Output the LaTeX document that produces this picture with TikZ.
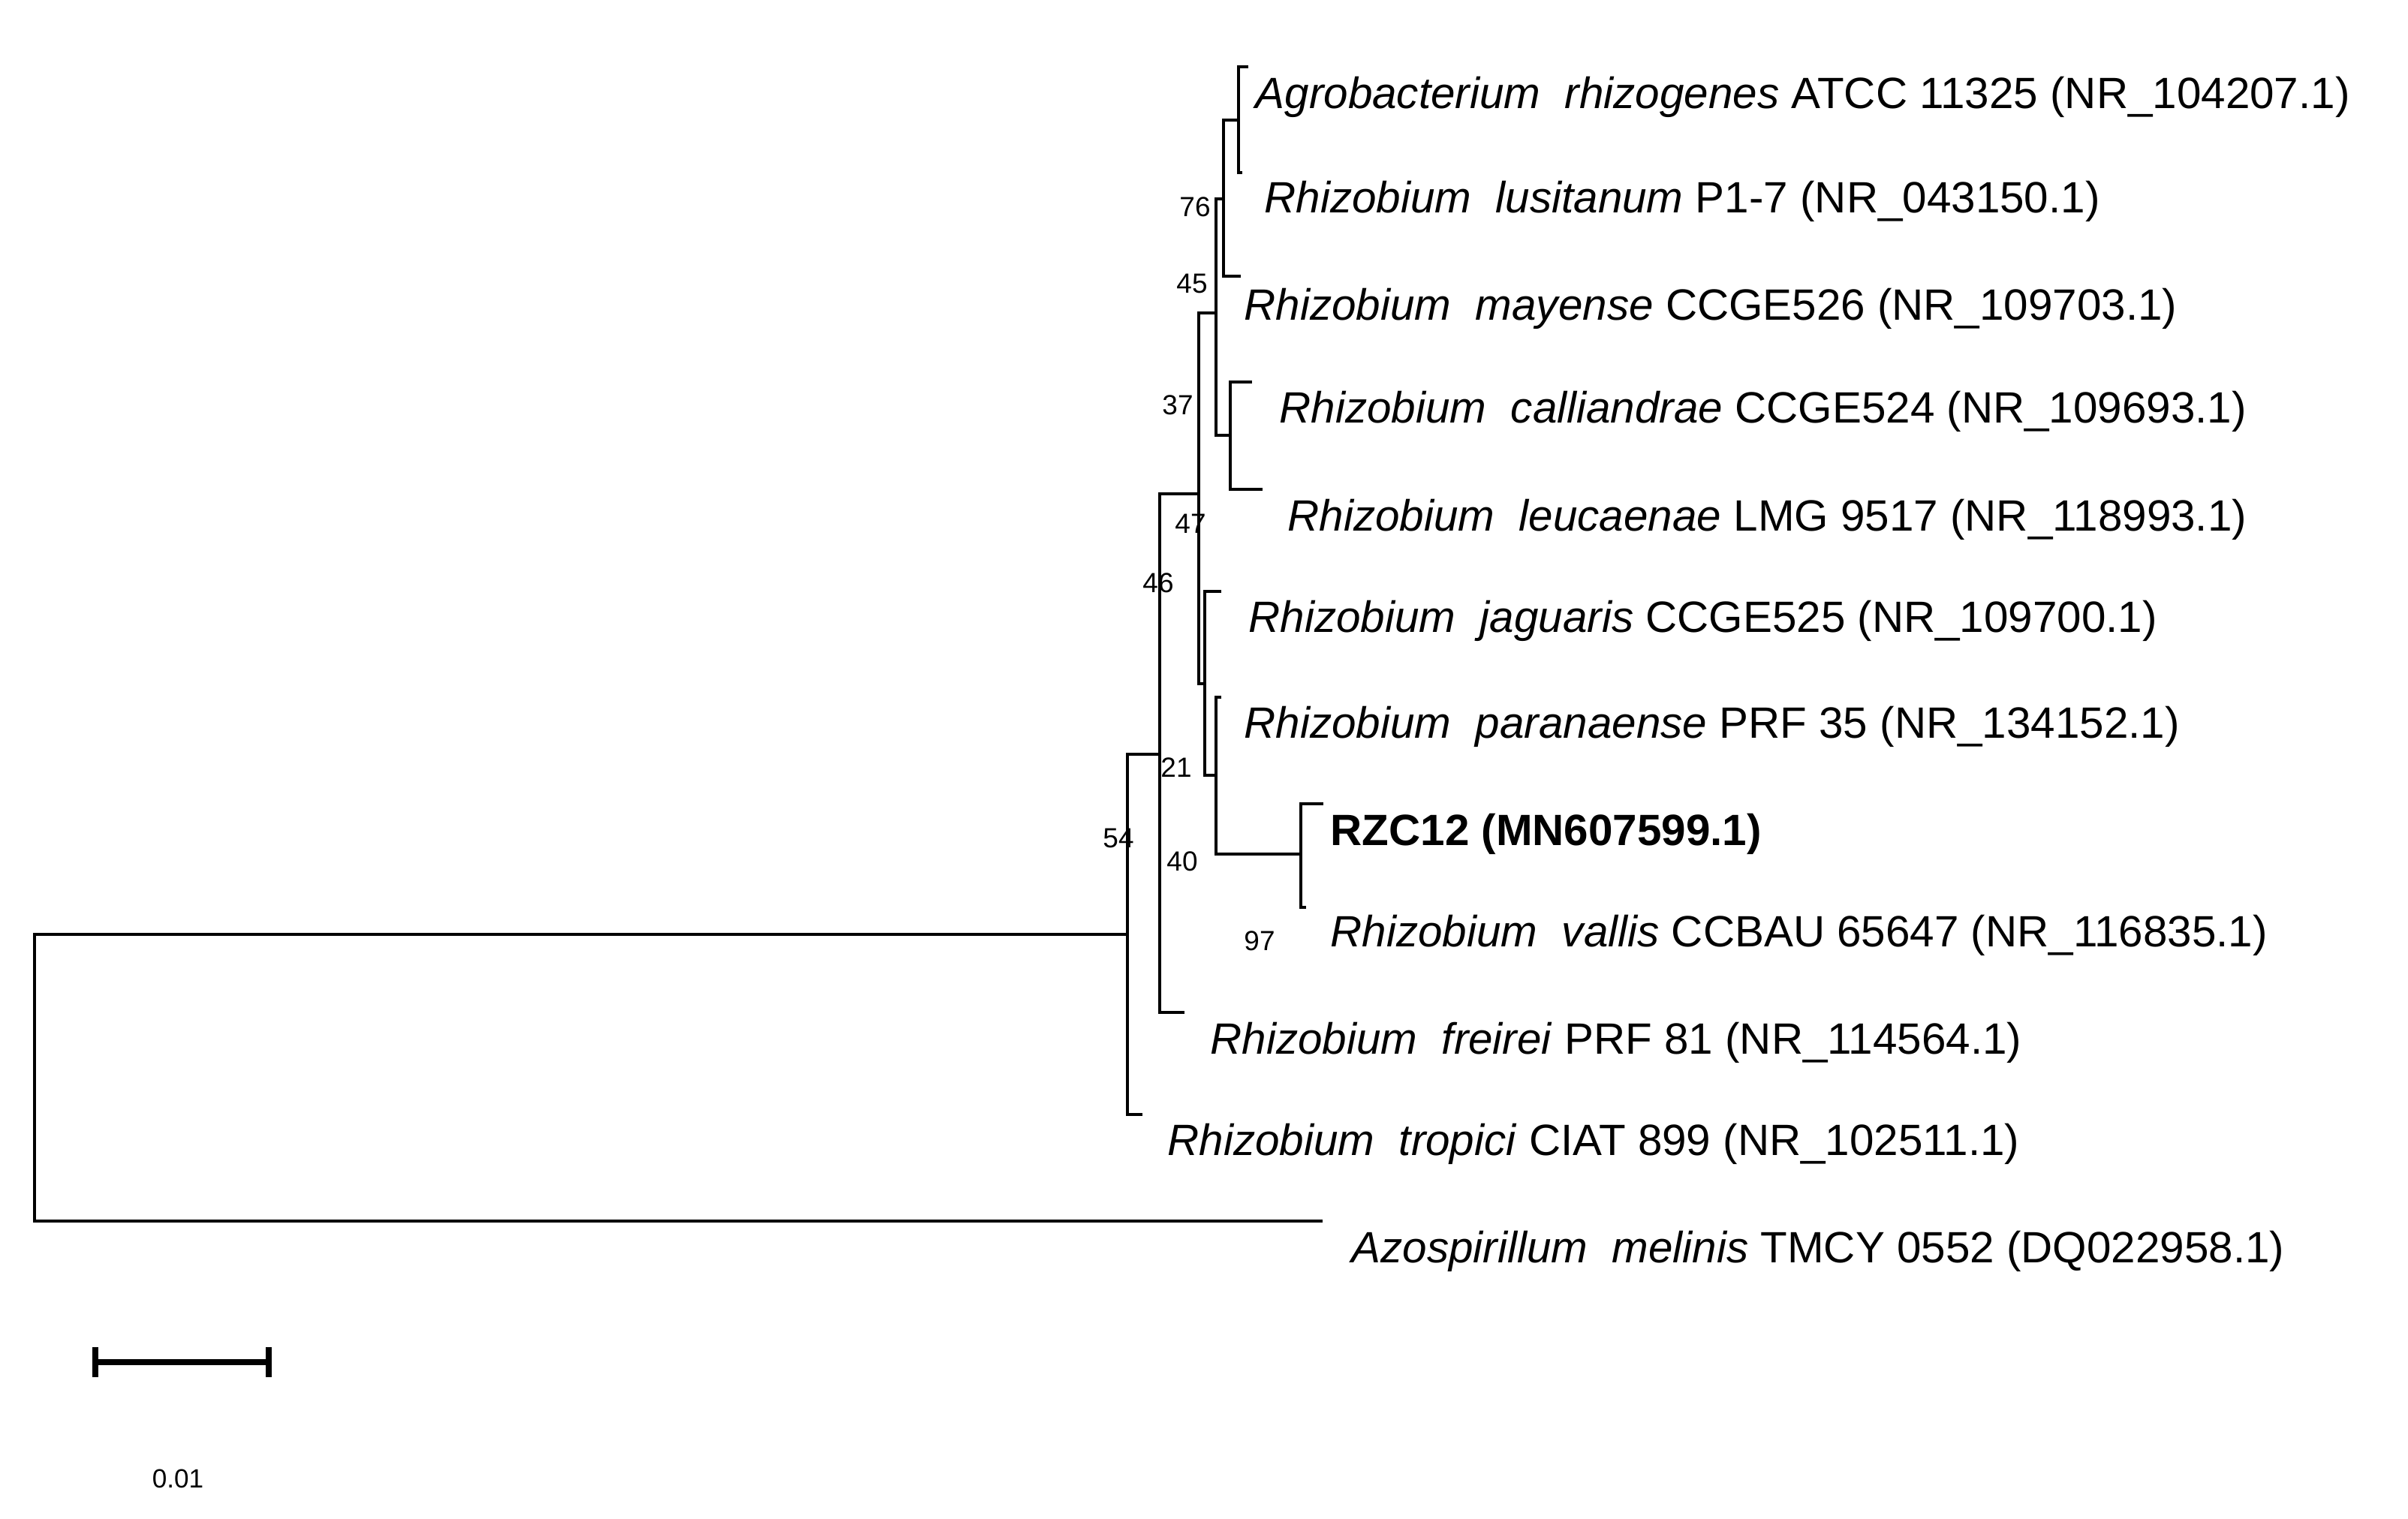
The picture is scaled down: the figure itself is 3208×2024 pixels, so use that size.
\documentclass[tikz,border=0pt]{standalone}
\usepackage{fontspec}
\setmainfont{Liberation Sans}
\begin{document}
\begin{tikzpicture}[x=0.01cm,y=-0.01cm,
  br/.style={line width=1.1pt},
  tax/.style={anchor=west,font=\fontsize{16.6}{18}\selectfont,inner sep=0pt},
  bs/.style={font=\fontsize{10.5}{12}\selectfont,inner sep=0pt}]
\useasboundingbox (0,0) rectangle (3208,2024);
% internal nodes
\coordinate (R) at (46,1245);
\coordinate (G) at (1502,1245);
\coordinate (F) at (1545,1005);
\coordinate (E) at (1597,658);
\coordinate (C) at (1620,417);
\coordinate (B) at (1630,265);
\coordinate (A) at (1650,160);
\coordinate (D) at (1639,580);
\coordinate (H) at (1605,911);
\coordinate (I) at (1620,1033);
\coordinate (J) at (1733,1138);
% tips
\coordinate (tAgro) at (1663,89);
\coordinate (tLus) at (1655,230);
\coordinate (tMay) at (1653,368);
\coordinate (tCal) at (1668,509);
\coordinate (tLeu) at (1682,652);
\coordinate (tJag) at (1627,788);
\coordinate (tPar) at (1627,929);
\coordinate (tRZC) at (1763,1071);
\coordinate (tVal) at (1740,1209);
\coordinate (tFre) at (1578,1349);
\coordinate (tTro) at (1522,1485);
\coordinate (tAzo) at (1762,1627);
% branches
\draw[br] (G) |- (R) |- (tAzo);
\draw[br] (tTro) -| (G) |- (F);
\draw[br] (tFre) -| (F) |- (E);
\draw[br] (H) -| (E) |- (C);
\draw[br] (D) -| (C) |- (B);
\draw[br] (tMay) -| (B) |- (A);
\draw[br] (tAgro) -| (A) |- (tLus);
\draw[br] (tCal) -| (D) |- (tLeu);
\draw[br] (tJag) -| (H) |- (I);
\draw[br] (tPar) -| (I) |- (J);
\draw[br] (tRZC) -| (J) |- (tVal);
% labels
\node[tax] (lAgro) at (1672,129) {\textit{Agrobacterium\ \ rhizogenes} ATCC 11325 (NR\_104207.1)};
\node[tax] (lLus) at (1684,268) {\textit{Rhizobium\ \ lusitanum} P1-7 (NR\_043150.1)};
\node[tax] (lMay) at (1657,411) {\textit{Rhizobium\ \ mayense} CCGE526 (NR\_109703.1)};
\node[tax] (lCal) at (1704,548) {\textit{Rhizobium\ \ calliandrae} CCGE524 (NR\_109693.1)};
\node[tax] (lLeu) at (1715,692) {\textit{Rhizobium\ \ leucaenae} LMG 9517 (NR\_118993.1)};
\node[tax] (lJag) at (1663,827) {\textit{Rhizobium\ \ jaguaris} CCGE525 (NR\_109700.1)};
\node[tax] (lPar) at (1657,968) {\textit{Rhizobium\ \ paranaense} PRF 35 (NR\_134152.1)};
\node[tax] (lRZC) at (1772,1111) {\textbf{RZC12 (MN607599.1)}};
\node[tax] (lVal) at (1772,1246) {\textit{Rhizobium\ \ vallis} CCBAU 65647 (NR\_116835.1)};
\node[tax] (lFre) at (1612,1389) {\textit{Rhizobium\ \ freirei} PRF 81 (NR\_114564.1)};
\node[tax] (lTro) at (1555,1524) {\textit{Rhizobium\ \ tropici} CIAT 899 (NR\_102511.1)};
\node[tax] (lAzo) at (1800,1667) {\textit{Azospirillum\ \ melinis} TMCY 0552 (DQ022958.1)};
% bootstrap
\node[bs] (b76) at (1592,276) {76};
\node[bs] (b45) at (1588,378) {45};
\node[bs] (b37) at (1569,540) {37};
\node[bs] (b47) at (1586,698) {47};
\node[bs] (b46) at (1543,777) {46};
\node[bs] (b21) at (1567,1023) {21};
\node[bs] (b54) at (1490,1117) {54};
\node[bs] (b40) at (1575,1148) {40};
\node[bs] (b97) at (1678,1254) {97};
% scale bar
\coordinate (s1) at (127,1815);
\coordinate (s2) at (358,1815);
\draw[line width=2.2pt] (s1) -- (s2);
\draw[line width=2.2pt] ([yshift=-0.2cm]s1) -- ([yshift=0.2cm]s1);
\draw[line width=2.2pt] ([yshift=-0.2cm]s2) -- ([yshift=0.2cm]s2);
\node[bs,font=\fontsize{10}{12}\selectfont] (sl) at (237,1970) {0.01};
\end{tikzpicture}
\end{document}
